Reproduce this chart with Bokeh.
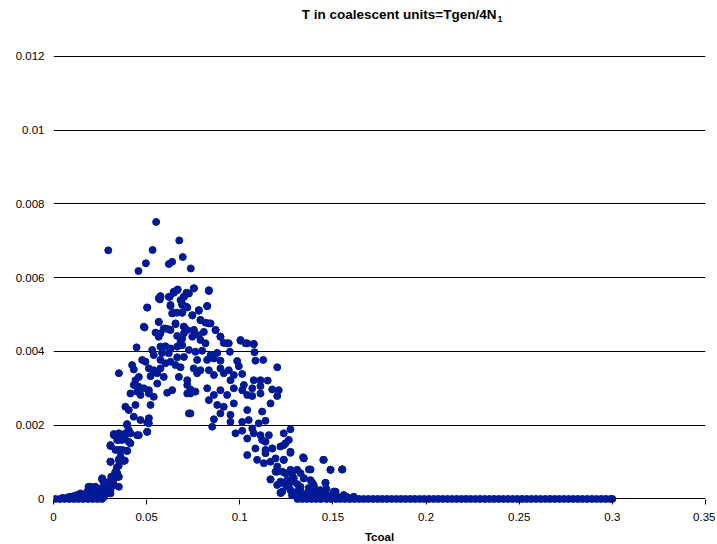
from bokeh.plotting import figure
from bokeh.models import Range1d, FixedTicker, Label
from bokeh.embed import file_html
from bokeh.resources import INLINE

# ---- data ----
x_ticks = [0, 0.05, 0.1, 0.15, 0.2, 0.25, 0.3, 0.35]
x_tick_labels = ["0", "0.05", "0.1", "0.15", "0.2", "0.25", "0.3", "0.35"]
y_ticks = [0, 0.002, 0.004, 0.006, 0.008, 0.01, 0.012]
y_tick_labels = ["0", "0.002", "0.004", "0.006", "0.008", "0.01", "0.012"]
title_main = "T in coalescent units=Tgen/4N"
title_sub = "1"
x_label = "Tcoal"

# points lying on zero
zero_x = [0.001, 0.0035, 0.006, 0.0085, 0.011, 0.0135, 0.016, 0.0185, 0.021, 0.0235, 0.026,
          0.131, 0.1335, 0.136, 0.1385, 0.141, 0.1435,
          0.1465, 0.149, 0.1515, 0.154, 0.1565, 0.159, 0.1615, 0.164,
          0.1665, 0.169, 0.1715, 0.174, 0.1765, 0.179, 0.1815, 0.184, 0.1865, 0.189, 0.1915, 0.194, 0.1965,
          0.199, 0.2015, 0.204, 0.2065, 0.209, 0.2115, 0.214, 0.2165, 0.219, 0.2215, 0.224, 0.2265, 0.229,
          0.2315, 0.234, 0.2365, 0.239, 0.2415, 0.244, 0.2465, 0.249, 0.2515, 0.254, 0.2565, 0.259, 0.2615,
          0.264, 0.2665, 0.269, 0.2715, 0.274, 0.2765, 0.279, 0.2815, 0.284, 0.2865, 0.289, 0.2915, 0.294,
          0.2965, 0.299, 0.3]
zero_y = [0.0] * len(zero_x)

# cloud, region by region
top_x = [0.0551, 0.0294, 0.0532, 0.0675, 0.0496, 0.0456, 0.0619, 0.0637, 0.0694, 0.0737]
top_y = [0.00751, 0.00674, 0.00675, 0.00701, 0.00639, 0.00618, 0.00637, 0.00643, 0.00656, 0.00625]

upper_x = [0.0754, 0.0834, 0.0664, 0.0646, 0.0565, 0.0574, 0.0619, 0.0700, 0.0727, 0.0503, 0.0628, 0.0691,
           0.0718, 0.0780, 0.0825, 0.0646, 0.0691, 0.0745, 0.0489, 0.0565, 0.0601, 0.0655, 0.0700, 0.0753,
           0.0789, 0.0834, 0.0870, 0.0896, 0.0932, 0.1004, 0.1040, 0.1075]
upper_y = [0.00571, 0.00566, 0.00566, 0.00562, 0.00544, 0.00550, 0.00548, 0.00548, 0.00557, 0.00519, 0.00523,
           0.00528, 0.00519, 0.00512, 0.00523, 0.00505, 0.00505, 0.00498, 0.00465, 0.00480, 0.00462, 0.00474,
           0.00467, 0.00458, 0.00485, 0.00476, 0.00458, 0.00440, 0.00422, 0.00431, 0.00422, 0.00420]

left_mid_x = [0.0667, 0.0646, 0.0624, 0.0574, 0.0571, 0.0714, 0.0700, 0.0682, 0.0628, 0.0691, 0.0503, 0.0637,
              0.0664, 0.0691, 0.0485, 0.0565, 0.0655, 0.0592, 0.0619, 0.0548, 0.0574, 0.0628, 0.0664, 0.0700,
              0.0565, 0.0682, 0.0446, 0.0530, 0.0574, 0.0601, 0.0628, 0.0664, 0.0691, 0.0538, 0.0583, 0.0619,
              0.0664, 0.0476, 0.0494, 0.0574, 0.0601, 0.0628, 0.0655, 0.0682, 0.0422, 0.0431, 0.0351, 0.0512,
              0.0538, 0.0574, 0.0557, 0.0521, 0.0592, 0.0673, 0.0458, 0.0440, 0.0431, 0.0458, 0.0485, 0.0512,
              0.0413, 0.0449, 0.0557, 0.0610, 0.0637, 0.0538, 0.0718, 0.0735]
left_mid_y = [0.00568, 0.00559, 0.00548, 0.00548, 0.00541, 0.00559, 0.00548, 0.00539, 0.00526, 0.00526, 0.00519,
              0.00503, 0.00505, 0.00505, 0.00467, 0.00480, 0.00476, 0.00462, 0.00460, 0.00451, 0.00449, 0.00458,
              0.00442, 0.00449, 0.00440, 0.00426, 0.00411, 0.00404, 0.00413, 0.00414, 0.00408, 0.00413, 0.00417,
              0.00390, 0.00396, 0.00395, 0.00384, 0.00377, 0.00372, 0.00377, 0.00368, 0.00372, 0.00363, 0.00357,
              0.00363, 0.00351, 0.00341, 0.00354, 0.00349, 0.00354, 0.00341, 0.00333, 0.00331, 0.00331, 0.00331,
              0.00322, 0.00309, 0.00304, 0.00300, 0.00295, 0.00286, 0.00291, 0.00313, 0.00288, 0.00295, 0.00277,
              0.00309, 0.00286]

right_mid_x = [0.0753, 0.0834, 0.0718, 0.0714, 0.0825, 0.0745, 0.0780, 0.0789, 0.0816, 0.0843, 0.0700, 0.0718,
               0.0753, 0.0807, 0.0870, 0.0896, 0.0691, 0.0745, 0.0780, 0.0789, 0.0816, 0.0914, 0.0941, 0.1004,
               0.1031, 0.1075, 0.0727, 0.0762, 0.0798, 0.0843, 0.0879, 0.0947, 0.1079, 0.0700, 0.0771, 0.0825,
               0.0861, 0.0896, 0.0986, 0.1084, 0.1126, 0.0753, 0.0789, 0.0834, 0.0896, 0.0941, 0.0995, 0.1201,
               0.0771, 0.0861, 0.0914, 0.0968, 0.1013, 0.0718, 0.0950, 0.1075, 0.1111, 0.1150, 0.1022, 0.1111,
               0.0735, 0.0825, 0.0896, 0.0968, 0.1013, 0.1067, 0.1174, 0.1209, 0.0718, 0.0762, 0.0861, 0.0932,
               0.1040, 0.1111, 0.1201]
right_mid_y = [0.00571, 0.00564, 0.00557, 0.00521, 0.00523, 0.00498, 0.00510, 0.00485, 0.00478, 0.00476, 0.00467,
               0.00458, 0.00458, 0.00453, 0.00458, 0.00440, 0.00435, 0.00440, 0.00444, 0.00431, 0.00422, 0.00423,
               0.00422, 0.00429, 0.00422, 0.00420, 0.00404, 0.00399, 0.00402, 0.00390, 0.00396, 0.00399, 0.00398,
               0.00385, 0.00377, 0.00377, 0.00381, 0.00375, 0.00374, 0.00375, 0.00377, 0.00354, 0.00349, 0.00349,
               0.00354, 0.00349, 0.00360, 0.00357, 0.00341, 0.00336, 0.00341, 0.00336, 0.00339, 0.00322, 0.00322,
               0.00322, 0.00322, 0.00321, 0.00309, 0.00306, 0.00297, 0.00300, 0.00295, 0.00300, 0.00295, 0.00300,
               0.00297, 0.00295, 0.00286, 0.00291, 0.00282, 0.00282, 0.00282, 0.00286, 0.00279]

left_low_x = [0.0467, 0.0512, 0.0727, 0.0386, 0.0404, 0.0440, 0.0521, 0.0431, 0.0467, 0.0512, 0.0512, 0.0395,
              0.0404, 0.0324, 0.0351, 0.0386, 0.0413, 0.0458, 0.0503, 0.0342, 0.0369, 0.0413, 0.0306, 0.0333,
              0.0369, 0.0395, 0.0306, 0.0351, 0.0377, 0.0333, 0.0261, 0.0351, 0.0306, 0.0324, 0.0351, 0.0270,
              0.0252, 0.0199, 0.0216, 0.0288, 0.0306, 0.0181, 0.0234, 0.0145, 0.0127, 0.0091, 0.0163, 0.0216,
              0.0270]
left_low_y = [0.00282, 0.00286, 0.00232, 0.00250, 0.00241, 0.00255, 0.00255, 0.00223, 0.00214, 0.00219, 0.00205,
              0.00200, 0.00187, 0.00176, 0.00178, 0.00173, 0.00178, 0.00173, 0.00182, 0.00160, 0.00160, 0.00151,
              0.00144, 0.00133, 0.00133, 0.00130, 0.00101, 0.00106, 0.00103, 0.00074, 0.00056, 0.00060, 0.00047,
              0.00038, 0.00033, 0.00029, 0.00024, 0.00033, 0.00024, 0.00020, 0.00015, 0.00020, 0.00015, 0.00015,
              0.00011, 0.00006, 0.00006, 0.00006, 0.00005]

right_low_x = [0.0834, 0.0879, 0.0914, 0.0968, 0.0735, 0.0896, 0.0950, 0.1040, 0.1067, 0.1165, 0.1120, 0.0861,
               0.0852, 0.0950, 0.1013, 0.1048, 0.1102, 0.1138, 0.0977, 0.1013, 0.1040, 0.1067, 0.1075, 0.1111,
               0.1156, 0.1120, 0.1236, 0.1272, 0.1263, 0.1084, 0.1138, 0.1174, 0.1218, 0.1245, 0.1272, 0.1040,
               0.1093, 0.1129, 0.1165, 0.1201, 0.1236, 0.1192, 0.1228, 0.1272, 0.1308, 0.1344, 0.1371, 0.1451,
               0.1487, 0.1550, 0.1165, 0.1218, 0.1254, 0.1290, 0.1344, 0.1380, 0.1218, 0.1272, 0.1326, 0.1397,
               0.1460, 0.1505, 0.1362, 0.1433, 0.1487, 0.1577]
right_low_y = [0.00268, 0.00255, 0.00250, 0.00259, 0.00232, 0.00232, 0.00228, 0.00241, 0.00279, 0.00259, 0.00237,
               0.00216, 0.00196, 0.00209, 0.00209, 0.00214, 0.00205, 0.00212, 0.00178, 0.00185, 0.00164, 0.00191,
               0.00178, 0.00173, 0.00173, 0.00160, 0.00178, 0.00189, 0.00160, 0.00137, 0.00133, 0.00137, 0.00142,
               0.00151, 0.00128, 0.00119, 0.00106, 0.00097, 0.00101, 0.00088, 0.00106, 0.00074, 0.00074, 0.00079,
               0.00079, 0.00110, 0.00080, 0.00106, 0.00079, 0.00080, 0.00053, 0.00043, 0.00051, 0.00056, 0.00056,
               0.00051, 0.00017, 0.00024, 0.00024, 0.00038, 0.00044, 0.00020, 0.00006, 0.00006, 0.00002, 0.00005]

tails_x = [0.005, 0.008, 0.011, 0.013, 0.015, 0.017, 0.019, 0.020, 0.022, 0.024, 0.026, 0.028, 0.029, 0.031,
           0.032, 0.033, 0.034, 0.034, 0.035, 0.036, 0.0183, 0.0269, 0.0344, 0.0188, 0.0306, 0.0333, 0.0306,
           0.122, 0.139, 0.1465, 0.150, 0.153, 0.155, 0.141, 0.133, 0.128, 0.144, 0.160, 0.137, 0.131, 0.125]
tails_y = [0.00003, 0.00005, 0.00008, 0.00004, 0.00010, 0.00012, 0.00008, 0.00022, 0.00015, 0.00010, 0.00030,
           0.00035, 0.00045, 0.00060, 0.00050, 0.00070, 0.00085, 0.00060, 0.00090, 0.00115, 0.00016, 0.00047,
           0.00060, 0.00033, 0.00101, 0.00173, 0.00146, 0.00016, 0.00023, 0.00027, 0.00010, 0.00005, 0.00080,
           0.00012, 0.00012, 0.00010, 0.00015, 0.00002, 0.00030, 0.00040, 0.00035]

foot_right_x = [0.1138, 0.1174, 0.1236, 0.1272, 0.1138, 0.1192, 0.1236, 0.1340, 0.1448, 0.1380, 0.1487, 0.1550,
                0.1201, 0.1245, 0.1281, 0.1326, 0.1165, 0.1218, 0.1290, 0.1344, 0.1389, 0.1460, 0.1201, 0.1263,
                0.1326, 0.1406, 0.1228, 0.1308, 0.1362, 0.1433, 0.1514, 0.1326, 0.1380, 0.1470, 0.1558, 0.1612]
foot_right_y = [0.00155, 0.00137, 0.00146, 0.00125, 0.00124, 0.00110, 0.00106, 0.00113, 0.00106, 0.00080, 0.00079,
                0.00080, 0.00074, 0.00070, 0.00065, 0.00070, 0.00053, 0.00047, 0.00047, 0.00056, 0.00044, 0.00043,
                0.00038, 0.00033, 0.00033, 0.00026, 0.00020, 0.00020, 0.00015, 0.00024, 0.00020, 0.00006, 0.00008,
                0.00011, 0.00011, 0.00006]

foot_left_x = [0.0395, 0.0503, 0.0324, 0.0386, 0.0449, 0.0503, 0.0351, 0.0404, 0.0306, 0.0351, 0.0395, 0.0306,
               0.0351, 0.0383, 0.0342, 0.0324, 0.0261, 0.0288, 0.0324, 0.0225, 0.0270, 0.0306, 0.0190, 0.0243,
               0.0279, 0.0208, 0.0181, 0.0243]
foot_left_y = [0.00203, 0.00207, 0.00173, 0.00178, 0.00173, 0.00182, 0.00160, 0.00155, 0.00144, 0.00133, 0.00131,
               0.00101, 0.00107, 0.00104, 0.00070, 0.00056, 0.00053, 0.00043, 0.00038, 0.00033, 0.00029, 0.00024,
               0.00024, 0.00020, 0.00014, 0.00011, 0.00006, 0.00002]

groups = [(zero_x, zero_y), (top_x, top_y), (upper_x, upper_y), (left_mid_x, left_mid_y),
          (right_mid_x, right_mid_y), (left_low_x, left_low_y), (right_low_x, right_low_y),
          (tails_x, tails_y), (foot_right_x, foot_right_y), (foot_left_x, foot_left_y)]
tcoal, freq = [], []
for gx, gy in groups:
    n = min(len(gx), len(gy))
    tcoal += gx[:n]
    freq += gy[:n]

FONT = "Liberation Sans"
DOT = "#001a96"

# frame extends above the 0.012 line so that the title can sit inside it
p = figure(frame_width=652, frame_height=502, output_backend="svg", toolbar_location=None,
           x_range=Range1d(0, 0.35), y_range=Range1d(-0.00015, 0.01346),
           min_border_left=53, min_border_right=10, min_border_top=2, min_border_bottom=38)
p.outline_line_color = None
p.background_fill_color = "white"
p.border_fill_color = "white"

p.scatter(tcoal, freq, size=7, color=DOT, line_color=DOT)

# title with subscript (screen offsets from the top-left of the 0.012 line)
p.add_layout(Label(x=0, y=0.012, x_offset=443, y_offset=42, text=title_main,
                   text_align="right", text_baseline="middle", text_font=FONT, text_font_style="bold",
                   text_font_size="13.5px", text_color="black"))
p.add_layout(Label(x=0, y=0.012, x_offset=444, y_offset=37, text=title_sub,
                   text_align="left", text_baseline="middle", text_font=FONT, text_font_style="bold",
                   text_font_size="9px", text_color="black"))

# axes
p.xaxis.ticker = FixedTicker(ticks=x_ticks)
p.xaxis.major_label_overrides = {t: l for t, l in zip(x_ticks, x_tick_labels)}
p.yaxis.ticker = FixedTicker(ticks=y_ticks)
p.yaxis.major_label_overrides = {t: l for t, l in zip(y_ticks, y_tick_labels)}

p.xaxis.axis_line_color = None
p.xaxis.major_tick_in = 5
p.xaxis.major_tick_out = 0
p.xaxis.major_tick_line_color = "black"
p.xaxis.minor_tick_line_color = None
p.xaxis.major_label_standoff = 8
p.xaxis.axis_label = x_label
p.xaxis.axis_label_text_font = FONT
p.xaxis.axis_label_text_font_style = "bold"
p.xaxis.axis_label_text_font_size = "11.5px"
p.xaxis.axis_label_text_color = "black"
p.xaxis.axis_label_standoff = 7

p.yaxis.axis_line_color = None
p.yaxis.major_tick_line_color = None
p.yaxis.minor_tick_line_color = None
p.yaxis.major_tick_out = 0
p.yaxis.major_tick_in = 0
p.yaxis.major_label_standoff = 9

for ax in (p.xaxis, p.yaxis):
    ax.major_label_text_font = FONT
    ax.major_label_text_font_size = "11.5px"
    ax.major_label_text_color = "black"

p.xgrid.visible = False
p.ygrid.grid_line_color = "black"
p.ygrid.grid_line_width = 1
p.ygrid.grid_line_alpha = 1.0

open("out.html", "w").write(file_html(p, INLINE))
